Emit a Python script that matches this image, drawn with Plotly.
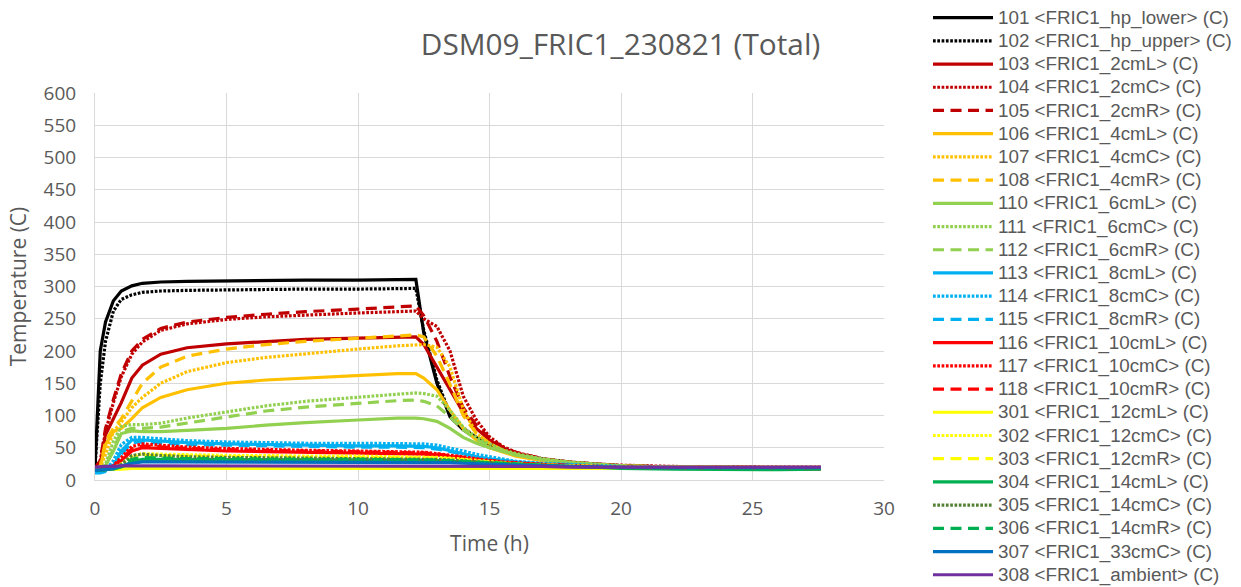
import plotly.graph_objects as go

time_h = [0, 0.2, 0.4, 0.7, 1.0, 1.4, 1.8, 2.5, 3.5, 5, 6.5, 8, 10, 11.5, 12.2, 12.5,
          13, 13.5, 14, 14.5, 15, 15.5, 16, 17, 18, 19, 20, 22, 24, 26, 27.6]

s101 = [20, 200, 245, 278, 293, 301, 305, 307, 308, 309, 309, 310, 310, 311, 311, 228, 150, 98, 78, 65, 55, 46, 40, 32, 27, 24, 22, 20, 19, 19, 19]
s102 = [20, 150, 215, 262, 280, 287, 291, 293, 294, 295, 295, 296, 296, 297, 297, 232, 155, 102, 80, 66, 56, 47, 41, 33, 28, 25, 22, 20, 19, 19, 19]
s103 = [18, 25, 70, 95, 120, 158, 178, 195, 205, 211, 215, 218, 220, 222, 222, 210, 175, 138, 105, 80, 62, 50, 42, 32, 27, 24, 22, 20, 20, 19, 19]
s104 = [18, 30, 75, 120, 160, 195, 214, 232, 242, 249, 253, 256, 259, 261, 262, 250, 238, 200, 130, 93, 67, 52, 43, 33, 28, 25, 23, 21, 20, 20, 20]
s105 = [18, 30, 80, 125, 165, 200, 218, 235, 245, 252, 257, 261, 265, 268, 270, 255, 215, 160, 112, 85, 65, 51, 43, 33, 28, 25, 22, 20, 20, 19, 19]
s106 = [17, 20, 55, 75, 80, 95, 112, 128, 140, 150, 155, 158, 162, 165, 165, 158, 140, 108, 80, 62, 50, 43, 37, 30, 26, 23, 21, 20, 19, 19, 19]
s107 = [17, 20, 40, 75, 90, 112, 128, 150, 168, 182, 190, 196, 203, 208, 210, 210, 206, 175, 110, 72, 57, 46, 39, 31, 27, 24, 22, 20, 20, 20, 20]
s108 = [17, 22, 60, 80, 95, 123, 150, 175, 192, 203, 210, 215, 220, 224, 225, 222, 192, 148, 100, 72, 57, 46, 39, 31, 27, 24, 22, 20, 20, 19, 19]
s110 = [17, 18, 22, 45, 72, 76, 75, 75, 77, 80, 85, 89, 93, 96, 96, 95, 91, 80, 66, 57, 50, 44, 39, 32, 27, 24, 21, 18, 17, 17, 18]
s111 = [17, 18, 25, 60, 83, 86, 86, 88, 96, 106, 115, 122, 129, 133, 135, 134, 130, 108, 82, 66, 56, 47, 41, 33, 28, 25, 22, 20, 19, 19, 19]
s112 = [17, 18, 22, 50, 75, 80, 80, 82, 88, 98, 107, 113, 119, 123, 124, 122, 115, 98, 78, 63, 53, 45, 39, 32, 27, 24, 22, 20, 19, 19, 19]
s113 = [13, 13, 15, 22, 45, 62, 62, 60, 58, 56, 55, 54, 53, 53, 53, 52, 50, 45, 40, 36, 33, 30, 28, 25, 23, 22, 20, 19, 19, 19, 19]
s114 = [12, 12, 15, 30, 55, 66, 66, 64, 61, 59, 58, 57, 57, 57, 57, 56, 54, 50, 45, 40, 36, 32, 29, 26, 24, 22, 21, 19, 19, 19, 19]
s115 = [11, 11, 13, 20, 40, 58, 59, 57, 55, 54, 53, 52, 51, 51, 51, 50, 48, 44, 39, 35, 32, 29, 27, 24, 22, 21, 20, 19, 19, 19, 19]
s116 = [16, 16, 17, 20, 30, 45, 50, 49, 47, 45, 44, 43, 42, 41, 41, 40, 39, 37, 34, 31, 29, 27, 26, 24, 22, 21, 20, 18, 18, 17, 17]
s117 = [16, 16, 17, 22, 35, 52, 56, 54, 51, 49, 47, 46, 45, 44, 44, 43, 41, 39, 36, 33, 30, 28, 27, 24, 22, 21, 20, 19, 18, 18, 18]
s118 = [16, 16, 17, 21, 32, 48, 53, 51, 49, 47, 46, 45, 44, 43, 43, 42, 40, 38, 35, 32, 30, 28, 26, 24, 22, 21, 20, 19, 18, 18, 18]
s301 = [16, 16, 16, 17, 17, 18, 18, 18, 18, 18, 18, 18, 18, 18, 18, 18, 18, 18, 18, 18, 18, 18, 18, 18, 18, 18, 18, 18, 18, 18, 18]
s302 = [16, 16, 17, 19, 25, 36, 41, 40, 39, 38, 38, 37, 37, 36, 36, 36, 35, 34, 32, 30, 28, 26, 25, 23, 22, 21, 20, 19, 19, 19, 19]
s303 = [16, 16, 17, 18, 23, 33, 38, 38, 37, 36, 36, 35, 35, 35, 35, 34, 34, 33, 31, 29, 27, 26, 25, 23, 22, 21, 20, 19, 19, 19, 19]
s304 = [15, 15, 16, 17, 20, 28, 32, 32, 32, 31, 31, 31, 31, 31, 31, 31, 30, 29, 28, 27, 26, 25, 24, 22, 21, 20, 18, 17, 16, 16, 17]
s305 = [15, 15, 16, 18, 24, 38, 40, 38, 36, 35, 34, 34, 33, 33, 33, 33, 32, 31, 30, 28, 27, 25, 24, 22, 21, 20, 19, 18, 18, 18, 18]
s306 = [15, 15, 16, 17, 22, 32, 35, 34, 33, 33, 32, 32, 32, 32, 32, 32, 31, 30, 29, 27, 26, 25, 24, 22, 21, 20, 19, 18, 18, 18, 18]
s307 = [15, 15, 16, 18, 22, 26, 28, 28, 28, 28, 28, 28, 28, 28, 28, 28, 27, 27, 26, 25, 24, 24, 23, 22, 21, 20, 20, 19, 19, 19, 19]
s308 = [20, 21, 21, 21, 22, 22, 22, 22, 22, 22, 22, 22, 22, 22, 22, 22, 22, 22, 22, 22, 22, 21, 21, 21, 20, 20, 20, 20, 20, 20, 20]

series_names = [
    "101 <FRIC1_hp_lower> (C)", "102 <FRIC1_hp_upper> (C)",
    "103 <FRIC1_2cmL> (C)", "104 <FRIC1_2cmC> (C)", "105 <FRIC1_2cmR> (C)",
    "106 <FRIC1_4cmL> (C)", "107 <FRIC1_4cmC> (C)", "108 <FRIC1_4cmR> (C)",
    "110 <FRIC1_6cmL> (C)", "111 <FRIC1_6cmC> (C)", "112 <FRIC1_6cmR> (C)",
    "113 <FRIC1_8cmL> (C)", "114 <FRIC1_8cmC> (C)", "115 <FRIC1_8cmR> (C)",
    "116 <FRIC1_10cmL> (C)", "117 <FRIC1_10cmC> (C)", "118 <FRIC1_10cmR> (C)",
    "301 <FRIC1_12cmL> (C)", "302 <FRIC1_12cmC> (C)", "303 <FRIC1_12cmR> (C)",
    "304 <FRIC1_14cmL> (C)", "305 <FRIC1_14cmC> (C)", "306 <FRIC1_14cmR> (C)",
    "307 <FRIC1_33cmC> (C)", "308 <FRIC1_ambient> (C)",
]
series_values = [s101, s102, s103, s104, s105, s106, s107, s108, s110, s111, s112,
                 s113, s114, s115, s116, s117, s118, s301, s302, s303, s304, s305,
                 s306, s307, s308]
series_colors = [
    "#000000", "#000000",
    "#c00000", "#c00000", "#c00000",
    "#ffc000", "#ffc000", "#ffc000",
    "#92d050", "#92d050", "#92d050",
    "#00b0f0", "#00b0f0", "#00b0f0",
    "#ff0000", "#ff0000", "#ff0000",
    "#ffff00", "#ffff00", "#ffff00",
    "#00b050", "#548235", "#00b050",
    "#0070c0", "#7030a0",
]
series_style = ["solid", "dot",
                "solid", "dot", "dash",
                "solid", "dot", "dash",
                "solid", "dot", "dash",
                "solid", "dot", "dash",
                "solid", "dot", "dash",
                "solid", "dot", "dash",
                "solid", "dot", "dash",
                "solid", "solid"]
DASHES = {"solid": "solid", "dot": "2.7px,1.6px", "dash": "11px,6.5px"}

FONT = "Open Sans"
LEGEND_FONT = "Liberation Sans"
GREY = "#595959"


def esc(s):
    return s.replace("<", "&lt;").replace(">", "&gt;")


fig = go.Figure()
for name, vals, col, sty in zip(series_names, series_values, series_colors, series_style):
    fig.add_trace(go.Scatter(
        x=time_h, y=vals, mode="lines",
        name='<span style="font-size:18.8px">' + esc(name) + "</span>",
        line=dict(color=col, width=3.2, dash=DASHES[sty]),
    ))

fig.update_layout(
    width=1241, height=587,
    paper_bgcolor="white", plot_bgcolor="white",
    margin=dict(l=95, r=357, t=93, b=107),
    font=dict(family=FONT, color=GREY),
    title=dict(text="DSM09_FRIC1_230821 (Total)", x=0.5, xref="container", xanchor="center",
               y=1 - 45 / 587, yref="container", yanchor="middle",
               font=dict(size=29.8, color=GREY, family=FONT)),
    legend=dict(
        x=928 / 1241, xref="container", xanchor="left",
        y=1 - 1 / 587, yref="container", yanchor="top",
        font=dict(size=15.55, color=GREY, family=LEGEND_FONT),
        tracegroupgap=0, itemwidth=60, bgcolor="rgba(0,0,0,0)",
        maxheight=700,
    ),
    showlegend=True,
)
fig.update_xaxes(
    range=[0, 30], dtick=5, tick0=0,
    showgrid=True, gridcolor="#d9d9d9", gridwidth=1,
    showline=True, linecolor="#d9d9d9", linewidth=1,
    zeroline=False, ticks="", ticklabelstandoff=11,
    tickfont=dict(size=19, color=GREY, family=FONT),
    title=dict(text="Time (h)", font=dict(size=21, color=GREY, family=FONT), standoff=16),
)
fig.update_yaxes(
    range=[0, 600], dtick=50, tick0=0,
    showgrid=True, gridcolor="#d9d9d9", gridwidth=1,
    showline=True, linecolor="#d9d9d9", linewidth=1,
    zeroline=False, ticks="", ticklabelstandoff=14,
    tickfont=dict(size=19, color=GREY, family=FONT),
    title=dict(text="Temperature (C)", font=dict(size=21, color=GREY, family=FONT), standoff=11),
)

fig.write_html("out.html")
